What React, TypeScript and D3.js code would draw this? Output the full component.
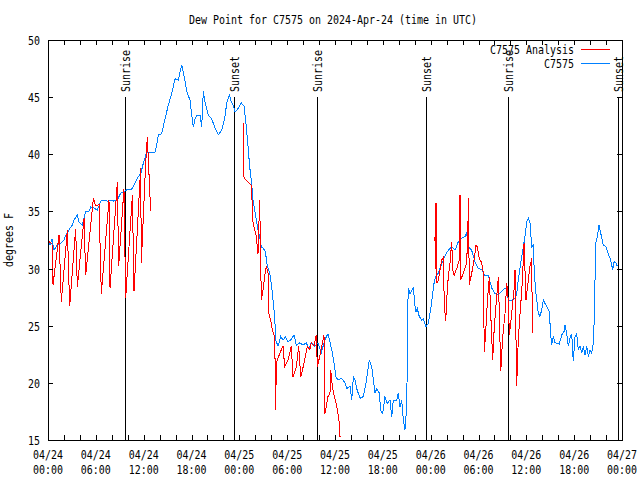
import React from "react";
import * as d3 from "d3";

// ---- data (hours since 2024-04-24 00:00 UTC, degrees F) ----
const TITLE = "Dew Point for C7575 on 2024-Apr-24 (time in UTC)";
const Y_LABEL = "degrees F";
const START_MS = Date.UTC(2024, 3, 24, 0, 0);
const SPAN_HOURS = 72;
const Y_TICKS = [15, 20, 25, 30, 35, 40, 45, 50];

const stationSeries: [number, number][] = [
  [0.0, 32.56], [0.25, 32.06], [0.5, 32.6], [0.75, 31.6], [1.17, 32.1], [1.59, 32.2], [2.01, 32.5],
  [2.22, 32.9], [2.63, 33.4], [3.05, 33.8], [3.26, 34.25], [3.68, 34.7], [3.89, 34.1], [4.3, 33.8],
  [4.52, 34.4], [4.73, 35.0], [5.14, 35.0], [5.36, 35.4], [5.77, 35.3], [6.18, 35.1], [6.61, 35.9],
  [7.02, 36.0], [7.44, 35.9], [7.87, 36.0], [8.28, 35.9], [8.69, 36.0], [9.12, 36.6], [9.53, 36.7],
  [9.87, 36.9], [10.45, 36.9], [10.79, 37.3], [11.2, 37.9], [11.63, 38.3], [11.95, 39.2], [12.38, 40.2],
  [12.79, 40.2], [13.42, 40.2], [13.64, 40.8], [13.84, 41.7], [14.26, 41.8], [14.68, 43.1], [15.09, 44.3],
  [15.52, 45.3], [15.93, 46.6], [16.34, 46.5], [16.56, 47.2], [16.77, 47.8], [16.97, 47.2], [17.19, 46.4],
  [17.4, 45.5], [17.81, 44.75], [18.03, 43.4], [18.23, 42.4], [18.44, 43.1], [18.65, 43.4], [19.07, 43.4],
  [19.28, 42.4], [19.48, 45.5], [19.69, 44.6], [19.91, 44.0], [20.11, 43.4], [20.53, 43.1], [20.95, 42.3],
  [21.36, 41.7], [21.79, 42.1], [22.2, 43.3], [22.42, 44.5], [22.74, 45.2], [23.04, 44.5], [23.24, 44.3],
  [23.46, 43.7], [23.83, 44.0], [24.25, 44.5], [24.59, 44.2], [24.87, 42.4], [25.09, 40.7], [25.3, 38.9],
  [25.5, 37.75], [25.72, 36.0], [25.93, 35.1], [26.13, 34.25], [26.34, 33.4], [26.55, 32.8], [26.76, 31.9],
  [26.97, 31.8], [27.26, 31.5], [27.51, 30.2], [27.81, 29.6], [28.01, 28.7], [28.22, 27.25], [28.44, 25.8],
  [28.56, 23.75], [28.85, 23.2], [29.19, 24.05], [29.48, 23.75], [29.77, 24.0], [30.11, 23.6], [30.52, 23.8],
  [30.86, 24.2], [31.15, 23.3], [31.57, 23.5], [31.99, 23.3], [32.4, 23.5], [32.7, 23.0], [33.03, 23.5],
  [33.46, 23.2], [33.87, 23.5], [34.28, 22.6], [34.71, 23.75], [35.12, 24.3], [35.59, 22.9], [35.88, 21.7],
  [36.13, 20.5], [36.41, 20.25], [36.84, 20.4], [37.26, 20.0], [37.47, 19.5], [37.88, 19.7], [38.1, 18.5],
  [38.3, 20.5], [38.51, 20.25], [38.72, 19.5], [39.14, 18.65], [39.55, 18.8], [39.89, 20.0], [40.05, 20.8],
  [40.3, 22.0], [40.61, 21.4], [40.81, 20.25], [41.02, 19.1], [41.23, 19.5], [41.56, 19.1], [41.73, 17.6],
  [41.98, 17.3], [42.27, 18.8], [42.56, 18.2], [42.9, 18.5], [43.11, 17.0], [43.31, 18.5], [43.74, 18.5],
  [43.94, 19.1], [44.15, 17.9], [44.37, 18.5], [44.57, 16.75], [44.78, 15.9], [45.0, 17.9], [45.05, 21.0],
  [45.12, 26.1], [45.19, 28.3], [45.4, 27.8], [45.61, 28.0], [45.82, 28.4], [46.04, 26.7], [46.16, 26.2],
  [46.32, 26.5], [46.57, 25.8], [46.87, 25.5], [47.07, 25.6], [47.41, 24.9], [47.7, 25.2], [48.0, 26.4],
  [48.2, 27.5], [48.42, 28.7], [48.63, 29.3], [48.96, 29.6], [49.26, 30.2], [49.59, 30.75], [49.92, 31.3],
  [50.21, 31.6], [50.64, 31.9], [51.05, 31.6], [51.47, 32.35], [51.89, 32.65], [52.31, 32.8], [52.52, 33.1],
  [52.72, 31.9], [53.14, 31.6], [53.56, 30.6], [53.98, 30.0], [54.4, 29.9], [54.82, 29.4], [55.23, 29.4],
  [55.66, 28.3], [56.07, 27.8], [56.49, 27.7], [56.91, 28.0], [57.33, 28.3], [57.54, 28.3], [57.74, 27.25],
  [58.17, 27.25], [58.58, 27.4], [58.79, 27.8], [58.99, 29.0], [59.29, 30.5], [59.62, 31.9], [59.83, 32.8],
  [60.05, 34.1], [60.25, 34.4], [60.46, 34.0], [60.68, 31.9], [60.88, 32.05], [61.0, 29.6], [61.21, 27.8],
  [61.5, 26.1], [61.71, 25.8], [61.93, 26.4], [62.13, 27.25], [62.34, 26.95], [62.56, 26.7], [62.88, 26.2],
  [63.06, 24.2], [63.18, 23.3], [63.38, 24.05], [63.6, 23.5], [64.14, 23.4], [64.44, 24.2], [64.73, 24.5],
  [64.85, 25.1], [65.07, 24.3], [65.27, 23.2], [65.48, 23.9], [65.69, 24.3], [65.89, 21.9], [66.11, 24.05],
  [66.32, 24.3], [66.52, 22.9], [66.73, 23.2], [66.95, 22.6], [67.15, 23.2], [67.36, 22.4], [67.57, 23.2],
  [67.78, 22.3], [67.99, 22.9], [68.2, 22.6], [68.4, 23.5], [68.53, 25.8], [68.7, 32.2], [68.9, 32.8],
  [69.12, 33.8], [69.33, 33.1], [69.66, 32.05], [69.99, 31.9], [70.28, 31.3], [70.58, 30.75], [70.83, 29.9],
  [71.0, 30.6], [71.25, 30.5], [71.41, 30.2],
];

const analysisSeg1: [number, number][] = [
  [0.0, 32.4], [0.5, 32.2], [0.63, 28.6], [1.38, 32.9], [1.67, 27.1], [2.43, 33.4], [2.72, 26.7],
  [3.47, 33.5], [3.68, 28.4], [4.52, 34.4], [4.72, 29.4], [5.69, 36.15], [5.98, 35.5], [6.4, 35.6],
  [6.69, 27.8], [7.65, 36.0], [7.78, 28.3], [8.7, 37.6], [8.86, 30.2], [9.53, 37.0], [9.74, 27.4],
  [10.58, 36.4], [10.79, 28.0], [11.62, 38.8], [11.71, 30.5], [12.25, 39.2], [12.46, 41.5], [12.88, 35.0],
];

const analysisSeg2: [number, number][] = [
  [24.46, 42.7], [24.59, 37.9], [25.5, 37.3], [25.59, 36.0], [25.72, 34.0], [25.93, 33.4], [26.13, 32.8],
  [26.34, 31.3], [26.55, 36.0], [26.76, 27.25], [26.97, 28.1], [27.18, 29.3], [27.38, 30.2], [27.6, 29.6],
  [27.68, 26.1], [27.94, 25.5], [28.14, 24.6], [28.44, 24.05], [28.56, 17.6], [28.64, 21.7], [28.76, 22.0],
  [29.27, 22.9], [29.48, 23.2], [29.69, 21.4], [30.11, 22.0], [30.52, 23.2], [30.73, 20.5], [31.15, 21.4],
  [31.45, 23.2], [31.7, 20.5], [32.11, 21.7], [32.53, 23.2], [32.83, 22.9], [33.03, 23.5], [33.37, 23.2],
  [33.66, 24.2], [33.78, 21.4], [34.08, 22.3], [34.5, 23.75], [34.62, 24.2], [34.74, 17.3], [35.12, 18.8],
  [35.37, 19.1], [35.46, 21.1], [35.7, 19.5], [36.2, 18.0], [36.55, 16.5], [36.63, 15.3],
];

const analysisSeg3: [number, number][] = [
  [48.54, 32.8], [48.58, 30.0], [48.67, 35.7], [48.76, 28.7], [48.96, 29.0], [49.17, 29.9], [49.39, 30.75],
  [49.59, 31.0], [49.71, 26.8], [49.89, 25.4], [50.01, 27.25], [50.21, 29.3], [50.43, 30.5], [50.64, 32.35],
  [50.77, 29.9], [50.93, 29.4], [51.27, 30.0], [51.59, 30.75], [51.68, 36.4], [51.77, 29.0], [52.09, 29.6],
  [52.43, 30.3], [52.65, 32.05], [52.72, 36.15], [52.85, 28.6], [53.15, 29.6], [53.44, 30.75], [53.69, 32.05],
  [53.85, 31.9], [54.1, 30.9], [54.4, 30.5], [54.6, 29.6], [54.73, 22.7], [54.94, 24.9], [55.1, 27.0],
  [55.36, 29.3], [55.53, 26.1], [55.78, 22.0], [55.98, 24.9], [56.28, 27.5], [56.49, 29.3], [56.61, 26.1],
  [56.79, 21.0], [57.04, 24.05], [57.33, 26.1], [57.54, 28.7], [57.74, 27.25], [57.87, 24.2], [58.17, 26.1],
  [58.45, 28.1], [58.58, 29.9], [58.79, 19.7], [58.99, 23.75], [59.21, 26.1], [59.43, 28.1], [59.62, 30.75],
  [59.71, 32.2], [59.96, 27.25], [60.25, 29.0], [60.46, 30.2], [60.68, 30.9], [60.75, 24.4],
];

const sunLabels = ["Sunrise", "Sunset", "Sunrise", "Sunset", "Sunrise", "Sunset"];
const sunHours = [9.66, 23.36, 33.78, 47.41, 57.74, 71.54];
const SUN_LINE_TOP = 45;

const legendNames = ["C7575 Analysis", "C7575"];
const legendColors = ["#ff0000", "#0080ff"];

// ---- layout ----
const W = 640, H = 480;
const L = 48, R = 622, T = 40, B = 440;
const FONT = "'DejaVu Sans Mono', 'Liberation Mono', monospace";
const CW = 6; // char width

const toDate = (h: number) => new Date(START_MS + h * 3600000);

function MText(props: any) {
  const { children, ...rest } = props;
  const s = String(children);
  return (
    <text
      fontFamily={FONT}
      fontSize={12}
      textLength={s.length * CW}
      lengthAdjust="spacingAndGlyphs"
      fill="#000"
      {...rest}
    >
      {s}
    </text>
  );
}

export default function App() {
  const x = d3.scaleUtc().domain([toDate(0), toDate(SPAN_HOURS)]).range([L, R]);
  const y = d3.scaleLinear().domain([15, 50]).range([B, T]);
  const line = d3
    .line<[number, number]>()
    .x((d) => x(toDate(d[0])))
    .y((d) => y(d[1]));

  const minorTicks = x.ticks(d3.utcHour.every(2) as any);
  const majorTicks = x.ticks(d3.utcHour.every(6) as any);
  const fmtDay = d3.utcFormat("%m/%d");
  const fmtTime = d3.utcFormat("%H:%M");
  const TL = 5;

  return (
    <svg
      width={W}
      height={H}
      style={{ position: "absolute", left: 0, top: 0, background: "#fff" }}
    >
      <rect x={0} y={0} width={W} height={H} fill="#fff" />
      <MText x={(L + R) / 2 - 2} y={24} textAnchor="middle">{TITLE}</MText>

      {/* sunrise / sunset lines */}
      {sunHours.map((h, i) => {
        const px = Math.round(x(toDate(h))) + 0.5;
        return (
          <g key={"sun" + i}>
            <line x1={px} x2={px} y1={y(SUN_LINE_TOP)} y2={B} stroke="#000" strokeWidth={1} shapeRendering="crispEdges" />
            <MText transform={`translate(${px + 4},92) rotate(-90)`} textAnchor="start">
              {sunLabels[i]}
            </MText>
          </g>
        );
      })}

      {/* series */}
      <path d={line(stationSeries) || ""} fill="none" stroke={legendColors[1]} strokeWidth={1} shapeRendering="crispEdges" />
      {[analysisSeg1, analysisSeg2, analysisSeg3].map((seg, i) => (
        <path key={"a" + i} d={line(seg) || ""} fill="none" stroke={legendColors[0]} strokeWidth={1} shapeRendering="crispEdges" />
      ))}

      {/* frame */}
      <rect x={L + 0.5} y={T + 0.5} width={R - L} height={B - T} fill="none" stroke="#000" strokeWidth={1} shapeRendering="crispEdges" />

      {/* x ticks */}
      {minorTicks.map((t, i) => {
        const px = Math.round(x(t)) + 0.5;
        return (
          <g key={"xt" + i}>
            <line x1={px} x2={px} y1={B} y2={B - TL} stroke="#000" shapeRendering="crispEdges" />
            <line x1={px} x2={px} y1={T} y2={T + TL} stroke="#000" shapeRendering="crispEdges" />
          </g>
        );
      })}
      {majorTicks.map((t, i) => {
        const px = Math.min(x(t), 624);
        return (
          <g key={"xl" + i}>
            <MText x={px} y={459} textAnchor="middle">{fmtDay(t)}</MText>
            <MText x={px} y={474} textAnchor="middle">{fmtTime(t)}</MText>
          </g>
        );
      })}

      {/* y ticks */}
      {Y_TICKS.map((v, i) => {
        const py = Math.round(y(v)) + 0.5;
        return (
          <g key={"yt" + i}>
            <line x1={L} x2={L + TL} y1={py} y2={py} stroke="#000" shapeRendering="crispEdges" />
            <line x1={R} x2={R - TL} y1={py} y2={py} stroke="#000" shapeRendering="crispEdges" />
            <MText x={40} y={py + 4} textAnchor="end">{String(v)}</MText>
          </g>
        );
      })}

      <MText transform={`translate(13,${(T + B) / 2}) rotate(-90)`} textAnchor="middle">{Y_LABEL}</MText>

      {/* legend */}
      {legendNames.map((n, i) => (
        <g key={"lg" + i}>
          <MText x={574} y={54 + i * 14} textAnchor="end">{n}</MText>
          <rect x={581} y={49 + i * 14} width={29} height={1} fill={legendColors[i]} />
        </g>
      ))}
    </svg>
  );
}
